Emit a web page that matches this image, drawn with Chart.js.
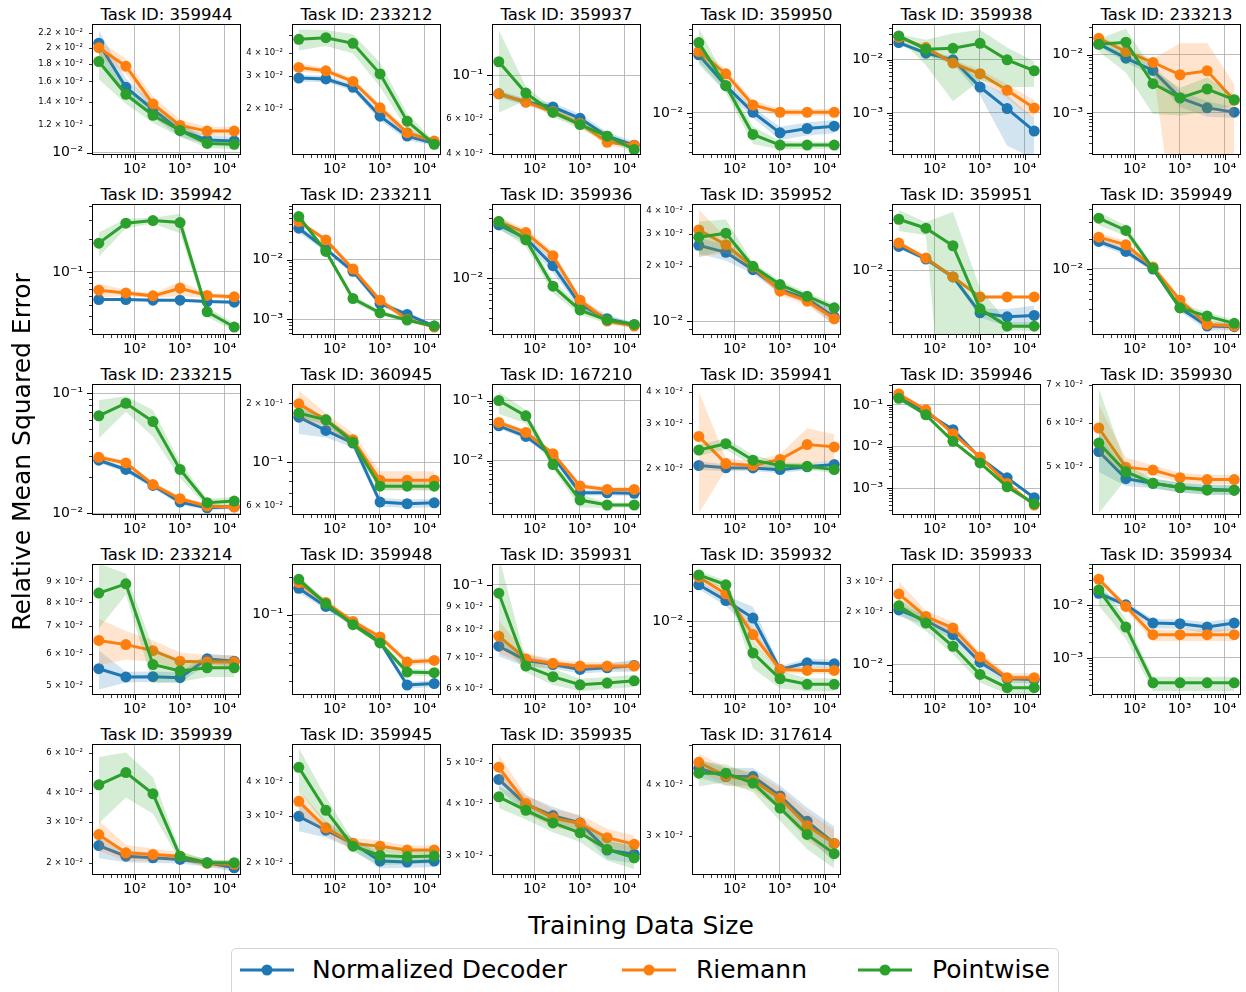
<!DOCTYPE html>
<html>
<head>
<meta charset="utf-8">
<script src="https://cdn.jsdelivr.net/npm/chart.js@4.4.1/dist/chart.umd.min.js"></script>
<style>
body { margin: 0; background: #fff; width: 1246px; height: 992px; overflow: hidden; position: relative; font-family: "DejaVu Sans", sans-serif; color: #000; }
canvas { position: absolute; }
.ttl { position: absolute; width: 149px; text-align: center; font-size: 16.5px; line-height: 20px; white-space: nowrap; }
.big { position: absolute; font-size: 25px; line-height: 30px; white-space: nowrap; text-align: center; }
#legend { position: absolute; left: 231px; top: 948px; width: 826px; height: 70px; border: 1px solid #d6d6d6; border-radius: 5px; background: #fff; }
.item { position: absolute; top: 955px; font-size: 25px; line-height: 30px; white-space: nowrap; }
.handle { position: absolute; top: 963px; }
</style>
</head>
<body>
<script>
// task ids in grid order (row by row)
const taskIds = [359944, 233212, 359937, 359950, 359938, 233213,
                 359942, 233211, 359936, 359952, 359951, 359949,
                 233215, 360945, 167210, 359941, 359946, 359930,
                 233214, 359948, 359931, 359932, 359933, 359934,
                 359939, 359945, 359935, 317614];
const trainSizes = [16, 64, 256, 1024, 4096, 16384];

const normalizedMean = [
  [0.0206, 0.0154, 0.0133, 0.01158, 0.01087, 0.0108],
  [0.0293, 0.0290, 0.0261, 0.0182, 0.01418, 0.01294],
  [0.0804, 0.0730, 0.0689, 0.0604, 0.0490, 0.0441],
  [0.0383, 0.01876, 0.01015, 0.0063, 0.00697, 0.00736],
  [0.0211, 0.01334, 0.0100, 0.00307, 0.001206, 0.000453],
  [0.01544, 0.00877, 0.00539, 0.00181, 0.00122, 0.00103],
  [0.0560, 0.0560, 0.0553, 0.0553, 0.0537, 0.0530],
  [0.0337, 0.01506, 0.0064, 0.00185, 0.00121, 0.000774],
  [0.0344, 0.0253, 0.0134, 0.00545, 0.00392, 0.00341],
  [0.0260, 0.0238, 0.01913, 0.0149, 0.01324, 0.01056],
  [0.01738, 0.0130, 0.00858, 0.00374, 0.00341, 0.00352],
  [0.0189, 0.01503, 0.0100, 0.00407, 0.00267, 0.00263],
  [0.0277, 0.0232, 0.01707, 0.01241, 0.01113, 0.01135],
  [0.170, 0.1455, 0.1254, 0.0626, 0.0614, 0.0621],
  [0.038, 0.0253, 0.0118, 0.00291, 0.00291, 0.00285],
  [0.02055, 0.02012, 0.0201, 0.0198, 0.0203, 0.02073],
  [0.1522, 0.0657, 0.0254, 0.00537, 0.001795, 0.0006],
  [0.0533, 0.0477, 0.0468, 0.0460, 0.04566, 0.0455],
  [0.0551, 0.0526, 0.0527, 0.0524, 0.0583, 0.0575],
  [0.1624, 0.1164, 0.0859, 0.0608, 0.02767, 0.0284],
  [0.0740, 0.0690, 0.0676, 0.0660, 0.0665, 0.0673],
  [0.0233, 0.0162, 0.0108, 0.00329, 0.00383, 0.00374],
  [0.0206, 0.0179, 0.01484, 0.01031, 0.00828, 0.00821],
  [0.0168, 0.01015, 0.00457, 0.00445, 0.00385, 0.00457],
  [0.02375, 0.02136, 0.0210, 0.02067, 0.0200, 0.01903],
  [0.0298, 0.02645, 0.0236, 0.02029, 0.02011, 0.02029],
  [0.0457, 0.0398, 0.0374, 0.0359, 0.0309, 0.0302],
  [0.0439, 0.0419, 0.0419, 0.0376, 0.0326, 0.0288]
];
const riemannMean = [
  [0.0200, 0.0177, 0.0138, 0.01197, 0.01153, 0.01153],
  [0.0335, 0.0321, 0.0281, 0.0202, 0.0148, 0.01332],
  [0.0804, 0.0730, 0.0652, 0.0568, 0.0456, 0.0440],
  [0.0414, 0.0247, 0.0120, 0.01015, 0.01015, 0.01015],
  [0.0266, 0.0170, 0.00866, 0.00546, 0.00266, 0.00124],
  [0.0193, 0.0114, 0.0074, 0.00454, 0.00532, 0.00165],
  [0.0681, 0.0644, 0.0605, 0.0711, 0.0610, 0.0593],
  [0.0435, 0.0215, 0.00699, 0.0021, 0.0010, 0.000745],
  [0.0372, 0.0288, 0.01686, 0.00603, 0.00372, 0.00331],
  [0.0316, 0.0262, 0.0198, 0.01459, 0.01285, 0.0103],
  [0.01877, 0.01328, 0.00858, 0.00541, 0.00541, 0.00541],
  [0.0209, 0.0175, 0.01047, 0.00486, 0.00277, 0.00267],
  [0.0293, 0.0263, 0.01738, 0.01324, 0.01151, 0.01128],
  [0.1987, 0.1648, 0.1303, 0.081, 0.081, 0.081],
  [0.0432, 0.0295, 0.01306, 0.00376, 0.00331, 0.00331],
  [0.0267, 0.0209, 0.02055, 0.0217, 0.0248, 0.0243],
  [0.1828, 0.076, 0.0204, 0.00568, 0.001315, 0.0004],
  [0.0587, 0.0500, 0.0494, 0.0479, 0.04753, 0.04753],
  [0.0646, 0.0631, 0.0610, 0.0575, 0.0572, 0.0572],
  [0.180, 0.1252, 0.0886, 0.0666, 0.0421, 0.0434],
  [0.0777, 0.0695, 0.0680, 0.0671, 0.0671, 0.0671],
  [0.0278, 0.0189, 0.00736, 0.00329, 0.00321, 0.00321],
  [0.02544, 0.0189, 0.0162, 0.01106, 0.0084, 0.0084],
  [0.031, 0.00944, 0.00275, 0.00275, 0.00275, 0.00275],
  [0.02648, 0.02208, 0.02173, 0.02136, 0.01987, 0.01968],
  [0.0339, 0.027, 0.0236, 0.02307, 0.0223, 0.0223],
  [0.0489, 0.0400, 0.0369, 0.0358, 0.0331, 0.0319],
  [0.0454, 0.0420, 0.0410, 0.0371, 0.0318, 0.0288]
];
const pointwiseMean = [
  [0.01825, 0.0147, 0.0128, 0.01158, 0.01063, 0.01057],
  [0.0476, 0.0486, 0.0453, 0.0309, 0.0171, 0.0128],
  [0.117, 0.0811, 0.0647, 0.0561, 0.0490, 0.0419],
  [0.0509, 0.01876, 0.00607, 0.00475, 0.00475, 0.00475],
  [0.0282, 0.01585, 0.0165, 0.0205, 0.0100, 0.00622],
  [0.0152, 0.0165, 0.00319, 0.00181, 0.00258, 0.00169],
  [0.1835, 0.279, 0.295, 0.283, 0.0433, 0.0314],
  [0.0528, 0.01377, 0.00224, 0.00129, 0.000974, 0.000774],
  [0.0372, 0.0244, 0.00832, 0.00479, 0.0038, 0.00344],
  [0.0288, 0.0303, 0.01995, 0.01585, 0.01368, 0.01182],
  [0.0326, 0.0265, 0.01766, 0.0041, 0.00275, 0.00275],
  [0.0324, 0.0244, 0.01015, 0.00407, 0.00336, 0.00284],
  [0.0649, 0.0826, 0.0582, 0.0232, 0.01226, 0.01265],
  [0.1782, 0.1648, 0.1265, 0.0755, 0.0755, 0.0755],
  [0.100, 0.0557, 0.00859, 0.0022, 0.00182, 0.00182],
  [0.0236, 0.0250, 0.02156, 0.02055, 0.0204, 0.0198],
  [0.144, 0.0578, 0.0134, 0.00408, 0.0011, 0.00043],
  [0.0552, 0.04907, 0.0468, 0.0460, 0.0455, 0.0455],
  [0.0843, 0.0888, 0.0564, 0.0544, 0.0554, 0.0554],
  [0.1912, 0.1222, 0.0834, 0.0597, 0.0351, 0.0347],
  [0.0960, 0.0671, 0.0637, 0.0612, 0.0617, 0.0624],
  [0.0293, 0.0233, 0.00482, 0.00265, 0.00233, 0.00233],
  [0.02173, 0.0173, 0.01273, 0.00877, 0.00736, 0.00736],
  [0.01946, 0.00385, 0.0003375, 0.0003375, 0.0003375, 0.0003375],
  [0.0435, 0.0492, 0.0398, 0.02136, 0.0200, 0.0200],
  [0.0454, 0.03139, 0.02307, 0.02129, 0.02105, 0.02118],
  [0.0415, 0.0385, 0.0359, 0.0340, 0.0310, 0.0296],
  [0.0427, 0.0427, 0.0404, 0.0351, 0.0303, 0.0272]
];

// std / mean, shaded as mean +- std
const normalizedSpread = [
  [0.09,0.06,0.05,0.04,0.03,0.03], [0.04,0.04,0.04,0.05,0.05,0.03], [0.04,0.04,0.05,0.05,0.05,0.04],
  [0.15,0.12,0.12,0.15,0.15,0.15], [0.1,0.1,0.15,0.3,0.8,0.7], [0.1,0.15,0.2,0.3,0.3,0.2],
  [0.03,0.03,0.03,0.03,0.03,0.03], [0.15,0.1,0.1,0.1,0.1,0.05], [0.1,0.1,0.15,0.1,0.1,0.05],
  [0.1,0.1,0.05,0.05,0.05,0.1], [0.05,0.05,0.05,0.1,0.2,0.25], [0.08,0.08,0.05,0.08,0.1,0.08],
  [0.05,0.05,0.05,0.05,0.04,0.04], [0.18,0.08,0.05,0.05,0.05,0.05], [0.1,0.1,0.1,0.1,0.1,0.1],
  [0.04,0.03,0.03,0.03,0.03,0.04], [0.08,0.08,0.08,0.08,0.08,0.08], [0.08,0.03,0.02,0.02,0.02,0.02],
  [0.11,0.03,0.03,0.03,0.03,0.03], [0.08,0.06,0.05,0.05,0.06,0.06], [0.05,0.03,0.02,0.02,0.02,0.03],
  [0.1,0.12,0.3,0.08,0.1,0.1], [0.08,0.06,0.06,0.06,0.05,0.05], [0.15,0.12,0.2,0.2,0.25,0.25],
  [0.12,0.06,0.05,0.04,0.04,0.04], [0.12,0.06,0.05,0.06,0.05,0.05], [0.05,0.05,0.05,0.04,0.05,0.05],
  [0.05,0.05,0.05,0.06,0.08,0.1]
];
const riemannSpread = [
  [0.05,0.05,0.05,0.04,0.03,0.03], [0.05,0.04,0.04,0.05,0.05,0.03], [0.03,0.03,0.04,0.04,0.04,0.04],
  [0.12,0.12,0.12,0.08,0.08,0.08], [0.08,0.08,0.15,0.2,0.3,0.4], [0.1,0.15,0.15,2.5,2.0,0.9],
  [0.15,0.06,0.05,0.15,0.05,0.05], [0.1,0.1,0.12,0.1,0.1,0.05], [0.1,0.1,0.1,0.1,0.08,0.05],
  [0.29,0.1,0.05,0.05,0.05,0.08], [0.05,0.05,0.05,0.03,0.03,0.03], [0.1,0.1,0.05,0.08,0.08,0.08],
  [0.05,0.05,0.05,0.05,0.04,0.04], [0.17,0.08,0.08,0.11,0.11,0.11], [0.1,0.1,0.1,0.1,0.1,0.1],
  [0.5,0.05,0.04,0.05,0.16,0.12], [0.08,0.08,0.08,0.08,0.08,0.08], [0.1,0.04,0.02,0.02,0.02,0.02],
  [0.13,0.08,0.06,0.05,0.04,0.04], [0.08,0.06,0.05,0.05,0.06,0.06], [0.08,0.03,0.02,0.02,0.02,0.02],
  [0.1,0.1,0.15,0.08,0.08,0.08], [0.18,0.08,0.08,0.06,0.06,0.06], [0.12,0.15,0.25,0.25,0.25,0.25],
  [0.15,0.08,0.06,0.04,0.04,0.04], [0.1,0.06,0.05,0.05,0.04,0.04], [0.07,0.05,0.05,0.05,0.05,0.05],
  [0.05,0.05,0.05,0.06,0.08,0.08]
];
const pointwiseSpread = [
  [0.11,0.06,0.05,0.04,0.03,0.03], [0.13,0.1,0.12,0.15,0.1,0.04], [0.45,0.08,0.05,0.05,0.05,0.04],
  [0.4,0.15,0.2,0.1,0.08,0.08], [0.08,0.5,0.9,0.8,0.7,0.5], [0.25,0.7,0.7,0.5,0.6,0.2],
  [0.25,0.1,0.06,0.2,0.1,0.08], [0.1,0.1,0.12,0.1,0.08,0.05], [0.15,0.15,0.15,0.1,0.08,0.05],
  [0.22,0.19,0.05,0.05,0.05,0.05], [0.24,0.15,1.2,0.6,0.1,0.1], [0.15,0.12,0.05,0.1,0.1,0.08],
  [0.35,0.15,0.25,0.15,0.08,0.08], [0.05,0.05,0.05,0.05,0.05,0.05], [0.4,0.25,0.15,0.25,0.1,0.1],
  [0.05,0.05,0.05,0.03,0.03,0.03], [0.08,0.08,0.08,0.08,0.08,0.08], [0.25,0.03,0.02,0.02,0.02,0.02],
  [0.18,0.06,0.1,0.06,0.05,0.05], [0.07,0.06,0.05,0.05,0.06,0.06], [0.2,0.03,0.04,0.03,0.03,0.03],
  [0.1,0.1,0.3,0.2,0.15,0.15], [0.1,0.1,0.1,0.1,0.08,0.08], [0.5,0.4,0.3,0.3,0.3,0.3],
  [0.32,0.22,0.18,0.05,0.03,0.03], [0.18,0.12,0.05,0.08,0.06,0.06], [0.06,0.05,0.05,0.05,0.06,0.06],
  [0.07,0.05,0.05,0.07,0.08,0.08]
];

// y limits and labelled y ticks of every panel
const yLimits = [
  [0.009847, 0.02339], [0.01119, 0.0577], [0.0393, 0.182], [0.003775, 0.0782], [1.607e-4, 0.0473], [1.88e-4, 0.034],
  [0.02655, 0.418], [5.48e-4, 0.0858], [0.00269, 0.0558], [0.00839, 0.0438], [0.00224, 0.0464], [0.00217, 0.045],
  [0.00969, 0.1195], [0.0538, 0.251], [0.00124, 0.1888], [0.01316, 0.0428], [2.32e-4, 0.316], [0.0411, 0.0703],
  [0.04753, 0.0993], [0.02306, 0.253], [0.0582, 0.1108], [0.00182, 0.0377], [0.00668, 0.0378], [1.98e-4, 0.0603],
  [0.0177, 0.0654], [0.018, 0.0555], [0.02691, 0.0556], [0.02413, 0.0503]
];
const yTickLabels = [
  [0.01, 0.012, 0.014, 0.016, 0.018, 0.02, 0.022], [0.02, 0.03, 0.04], [0.04, 0.06, 0.1], [0.01], [0.001, 0.01], [0.001, 0.01],
  [0.1], [0.001, 0.01], [0.01], [0.01, 0.02, 0.03, 0.04], [0.01], [0.01],
  [0.01, 0.1], [0.06, 0.1, 0.2], [0.01, 0.1], [0.02, 0.03, 0.04], [0.001, 0.01, 0.1], [0.05, 0.06, 0.07],
  [0.05, 0.06, 0.07, 0.08, 0.09], [0.1], [0.06, 0.07, 0.08, 0.09, 0.1], [0.01], [0.01, 0.02, 0.03], [0.001, 0.01],
  [0.02, 0.03, 0.04, 0.06], [0.02, 0.03, 0.04], [0.03, 0.04, 0.05], [0.03, 0.04]
];
const xTickLabels = [100, 1000, 10000];
const seriesNames = ['Normalized Decoder', 'Riemann', 'Pointwise'];

const FONT = '"DejaVu Sans", sans-serif';
const seriesColors = ['31,119,180', '255,127,14', '44,160,44'];
const X_MIN = 11.31, X_MAX = 23170;

const SUP = { '-': '⁻', '0': '⁰', '1': '¹', '2': '²', '3': '³', '4': '⁴', '5': '⁵', '6': '⁶', '7': '⁷', '8': '⁸', '9': '⁹' };
const sup = n => String(n).split('').map(ch => SUP[ch]).join('');
const near = (a, b) => Math.abs(a / b - 1) < 1e-6;
function isDecade(v) {
  const l = Math.log10(v);
  return Math.abs(l - Math.round(l)) < 1e-6;
}
function fmtTick(v) {
  const e = Math.floor(Math.log10(v) + 1e-9);
  if (isDecade(v)) return '10' + sup(Math.round(Math.log10(v)));
  const m = Math.round(v / Math.pow(10, e) * 10) / 10;
  return m + ' × 10' + sup(e);
}
function logTicks(lo, hi, extra) {
  const out = [];
  for (let e = Math.floor(Math.log10(lo)) - 1; e <= Math.ceil(Math.log10(hi)); e++) {
    for (let k = 1; k < 10; k++) {
      const v = k * Math.pow(10, e);
      if (v >= lo && v <= hi) out.push(v);
    }
  }
  extra.forEach(v => { if (v >= lo && v <= hi && !out.some(o => near(o, v))) out.push(v); });
  return out.sort((a, b) => a - b);
}

// black box round the axes and matplotlib-like tick marks
const framePlugin = {
  id: 'frame',
  afterDraw(chart) {
    const { ctx, chartArea: a, scales: { x, y } } = chart;
    ctx.save();
    ctx.strokeStyle = '#000';
    x.ticks.forEach(t => {
      const p = Math.round(x.getPixelForValue(t.value)) + 0.5;
      const big = isDecade(t.value);
      ctx.lineWidth = big ? 1 : 0.8;
      ctx.beginPath(); ctx.moveTo(p, a.bottom); ctx.lineTo(p, a.bottom + (big ? 5 : 3)); ctx.stroke();
    });
    y.ticks.forEach(t => {
      const p = Math.round(y.getPixelForValue(t.value)) + 0.5;
      const big = isDecade(t.value);
      ctx.lineWidth = big ? 1 : 0.8;
      ctx.beginPath(); ctx.moveTo(a.left, p); ctx.lineTo(a.left - (big ? 5 : 3), p); ctx.stroke();
    });
    ctx.lineWidth = 1;
    ctx.strokeRect(Math.round(a.left) + 0.5, Math.round(a.top) + 0.5, Math.round(a.right - a.left) - 1, Math.round(a.bottom - a.top) - 1);
    ctx.restore();
  }
};

const means = [normalizedMean, riemannMean, pointwiseMean];
const spreads = [normalizedSpread, riemannSpread, pointwiseSpread];
const gridColor = c => (c.tick && isDecade(c.tick.value)) ? 'rgba(176,176,176,0.85)' : 'rgba(0,0,0,0)';
const xTicks = logTicks(X_MIN, X_MAX, []);

taskIds.forEach((id, i) => {
  const r = Math.floor(i / 6), c = i % 6;
  const boxLeft = 92 + 200 * c, boxTop = 24 + 180 * r;

  const ttl = document.createElement('div');
  ttl.className = 'ttl';
  ttl.style.left = boxLeft + 'px';
  ttl.style.top = (boxTop - 19) + 'px';
  ttl.textContent = 'Task ID: ' + id;
  document.body.appendChild(ttl);

  const cv = document.createElement('canvas');
  cv.width = 221; cv.height = 177;
  cv.style.left = (boxLeft - 62) + 'px';
  cv.style.top = (boxTop - 22) + 'px';
  document.body.appendChild(cv);

  const [yMin, yMax] = yLimits[i];
  const labelled = yTickLabels[i];
  const yTicks = logTicks(yMin, yMax, labelled);

  const datasets = [];
  means.forEach((m, s) => {
    const vals = m[i], f = spreads[s][i];
    const col = seriesColors[s];
    const base = 6 - 2 * s;
    datasets.push({
      data: trainSizes.map((x, k) => ({ x, y: vals[k] * (1 + f[k]) })),
      borderWidth: 0, pointRadius: 0, fill: '+1',
      backgroundColor: `rgba(${col},0.2)`, order: base
    });
    datasets.push({
      data: trainSizes.map((x, k) => ({ x, y: Math.max(vals[k] * (1 - f[k]), yMin / 100) })),
      borderWidth: 0, pointRadius: 0, fill: false, order: base
    });
    datasets.push({
      label: seriesNames[s],
      data: trainSizes.map((x, k) => ({ x, y: vals[k] })),
      borderColor: `rgb(${col})`, backgroundColor: `rgb(${col})`,
      borderWidth: 3, pointRadius: 5.5, pointBorderWidth: 0, fill: false, order: base - 1
    });
  });

  new Chart(cv, {
    type: 'line',
    data: { datasets },
    options: {
      responsive: false, animation: false, devicePixelRatio: 1,
      layout: { padding: { top: 22, right: 10, left: 0, bottom: 0 } },
      plugins: { legend: { display: false }, title: { display: false }, tooltip: { enabled: false } },
      elements: { line: { tension: 0 } },
      scales: {
        x: {
          type: 'logarithmic', bounds: 'data', min: X_MIN, max: X_MAX,
          afterBuildTicks: sc => { sc.ticks = xTicks.map(v => ({ value: v })); },
          afterFit: sc => { sc.height = 24; },
          grid: { drawTicks: false, color: gridColor, lineWidth: 1 },
          border: { display: false },
          ticks: {
            autoSkip: false, maxRotation: 0, minRotation: 0, padding: 6, color: '#000',
            font: { size: 14, family: FONT },
            callback: v => xTickLabels.some(t => near(t, v)) ? fmtTick(v) : ''
          }
        },
        y: {
          type: 'logarithmic', bounds: 'data', min: yMin, max: yMax,
          afterBuildTicks: sc => { sc.ticks = yTicks.map(v => ({ value: v })); },
          afterFit: sc => { sc.width = 62; },
          grid: { drawTicks: false, color: gridColor, lineWidth: 1 },
          border: { display: false },
          ticks: {
            autoSkip: false, padding: 9, color: '#000',
            font: ctx => ({ size: (ctx.tick && isDecade(ctx.tick.value)) ? 14 : 8.5, family: FONT }),
            callback: v => labelled.some(t => near(t, v)) ? fmtTick(v) : ''
          }
        }
      }
    },
    plugins: [framePlugin]
  });
});

// figure labels and legend
function addDiv(cls, text, css) {
  const d = document.createElement('div');
  d.className = cls;
  d.textContent = text;
  Object.assign(d.style, css);
  document.body.appendChild(d);
  return d;
}
addDiv('big', 'Training Data Size', { left: '441px', top: '911px', width: '400px' });
addDiv('big', 'Relative Mean Squared Error', { left: '-178px', top: '437px', width: '400px', transform: 'rotate(-90deg)' });

const lg = document.createElement('div');
lg.id = 'legend';
document.body.appendChild(lg);
const handleX = [240, 622, 858];
const textX = [312, 696, 932];
seriesNames.forEach((name, s) => {
  const svgNS = 'http://www.w3.org/2000/svg';
  const svg = document.createElementNS(svgNS, 'svg');
  svg.setAttribute('width', '54'); svg.setAttribute('height', '14');
  svg.setAttribute('class', 'handle');
  svg.style.left = handleX[s] + 'px';
  const ln = document.createElementNS(svgNS, 'line');
  ln.setAttribute('x1', '0'); ln.setAttribute('x2', '54'); ln.setAttribute('y1', '7'); ln.setAttribute('y2', '7');
  ln.setAttribute('stroke', `rgb(${seriesColors[s]})`); ln.setAttribute('stroke-width', '3');
  const cc = document.createElementNS(svgNS, 'circle');
  cc.setAttribute('cx', '27'); cc.setAttribute('cy', '7'); cc.setAttribute('r', '5.5');
  cc.setAttribute('fill', `rgb(${seriesColors[s]})`);
  svg.appendChild(ln); svg.appendChild(cc);
  document.body.appendChild(svg);
  addDiv('item', name, { left: textX[s] + 'px' });
});
</script>
</body>
</html>
